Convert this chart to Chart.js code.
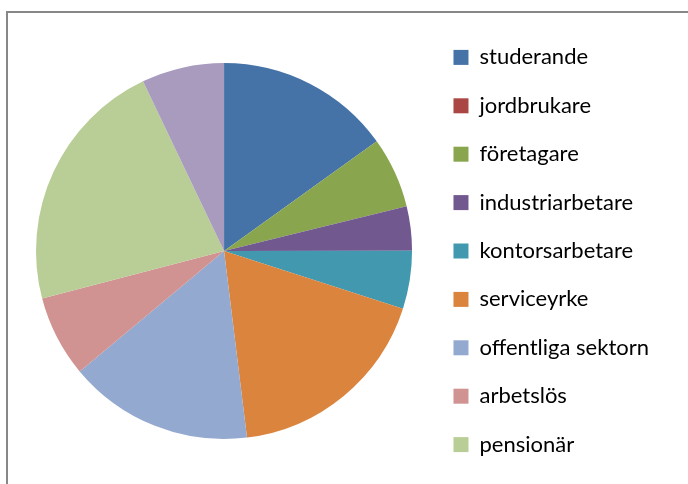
<!DOCTYPE html>
<html>
<head>
<meta charset="utf-8">
<script src="https://cdn.jsdelivr.net/npm/chart.js@4/dist/chart.umd.min.js"></script>
<style>
  html, body { margin: 0; padding: 0; background: #fff; overflow: hidden; }
  #wrap { position: relative; width: 688px; height: 484px; }
  #frame { position: absolute; left: 6px; top: 11px; width: 700px; height: 500px;
           border-left: 2px solid #888; border-top: 2px solid #888; }
  #chart { position: absolute; left: 0; top: 0; }
</style>
</head>
<body>
<div id="wrap">
  <div id="frame"></div>
  <canvas id="chart" width="688" height="484"></canvas>
</div>
<script>
var categories = ["studerande", "jordbrukare", "företagare", "industriarbetare", "kontorsarbetare",
                  "serviceyrke", "offentliga sektorn", "arbetslös", "pensionär", "övrigt"];
var values = [15.1, 0, 6.1, 3.8, 5.0, 18.1, 15.9, 7.0, 22.0, 7.1];
var colors = ["#4572A7", "#AA4643", "#89A54E", "#71588F", "#4198AF",
              "#DB843D", "#93A9CF", "#D19392", "#B9CD96", "#A99BBD"];

var ctx = document.getElementById("chart");
var pieChart = new Chart(ctx, {
    type: 'pie',
    data: {
        labels: categories,
        datasets: [{
            data: values,
            backgroundColor: colors,
            borderWidth: 0,
            radius: 188
        }]
    },
    options: {
        responsive: false,
        animation: false,
        layout: {
            padding: { left: 21, top: 18, right: 29, bottom: 0 }
        },
        plugins: {
            tooltip: { enabled: false },
            legend: {
                position: 'right',
                align: 'center',
                labels: {
                    boxWidth: 15,
                    boxHeight: 15,
                    padding: 26.4,
                    color: '#000',
                    font: { family: 'Lato', size: 22 },
                    // last slice has no entry in the legend
                    filter: function (item) { return item.index < 9; }
                }
            }
        }
    }
});
</script>
</body>
</html>
